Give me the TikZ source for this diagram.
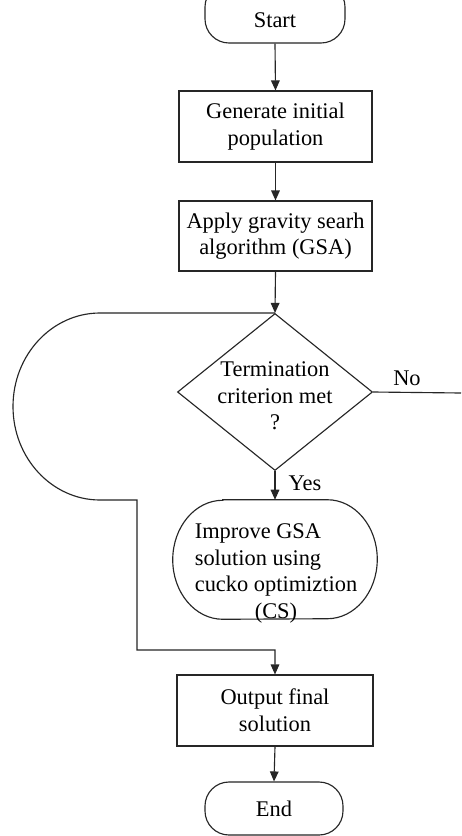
\documentclass[tikz,border=0pt]{standalone}
\usepackage{fontspec}
\setmainfont{Liberation Serif}
\usetikzlibrary{shapes.geometric,arrows.meta}
\begin{document}
\begin{tikzpicture}[x=0.75pt,y=-0.75pt,
  every node/.style={font=\fontsize{16.8pt}{20pt}\selectfont, inner sep=0pt},
  line/.style={draw=black!85, line width=0.85pt},
  arr/.style={line, -{Triangle[length=7.5pt,width=6.5pt]}},
  procbox/.style={line, rectangle, align=center},
  termbox/.style={line, rectangle, rounded corners=18pt, align=center},
  decbox/.style={line, diamond},
  lbl/.style={}
]
\path[use as bounding box, clip] (0,0) rectangle (461,836);
\fill[white] (0,0) rectangle (461,836);

\node[termbox, minimum width=105pt, minimum height=45pt] (start) at (275,13) {};
\node (starttext) at (275,20) {Start};
\node[procbox, minimum width=144.75pt, minimum height=53.25pt] (gen) at (275.5,126.5) {Generate initial\\population};
\node[procbox, minimum width=144.75pt, minimum height=52.5pt] (apply) at (275.5,236) {Apply gravity searh\\algorithm (GSA)};
\node[decbox, minimum width=146.25pt, minimum height=117.75pt] (dec) at (275,392) {};
\node[align=center] (dectext) at (275,396) {Termination\\criterion met\\?};
\node[rectangle, minimum width=153pt, minimum height=89.25pt] (imp) at (275,559.5) {};
\draw[line] ([xshift=37.5pt]imp.north west) -- ([xshift=-37.5pt]imp.north east)
  arc[start angle=90, end angle=-90, x radius=37.5pt, y radius=44.625pt]
  -- ([xshift=37.5pt]imp.south west)
  arc[start angle=270, end angle=90, x radius=37.5pt, y radius=44.625pt] -- cycle;
\node (imptext) at (276,573) {\begin{tabular}{@{}l@{}}Improve GSA\\solution using\\cucko optimiztion\\\multicolumn{1}{@{}c@{}}{(CS)}\end{tabular}};
\node[procbox, minimum width=147pt, minimum height=53.25pt] (out) at (275,710.5) {Output final\\solution};
\node[termbox, minimum width=103.5pt, minimum height=39.75pt] (end) at (274,808.5) {End};

\coordinate (loopa) at (100,313);
\coordinate (loopb) at (137,500);
\coordinate (loopc) at (137,650);
\coordinate (noend) at (461,393);

\draw[arr] (start.south) -- (gen.north);
\draw[arr] (gen.south) -- (apply.north);
\draw[arr] (apply.south) -- (dec.north);
\draw[arr] (dec.south) -- (imp.north);
\draw[line] (dec.east) -- (noend);
\draw[arr] (dec.north) -- (loopa)
  arc[start angle=90, end angle=270, x radius=65.25pt, y radius=70.125pt]
  -- (loopb) -- (loopc) -| (out.north);
\draw[arr] (out.south) -- (end.north);

\node[lbl] (nolbl) at (407,378) {No};
\node[lbl] (yeslbl) at (305,483) {Yes};
\end{tikzpicture}
\end{document}
